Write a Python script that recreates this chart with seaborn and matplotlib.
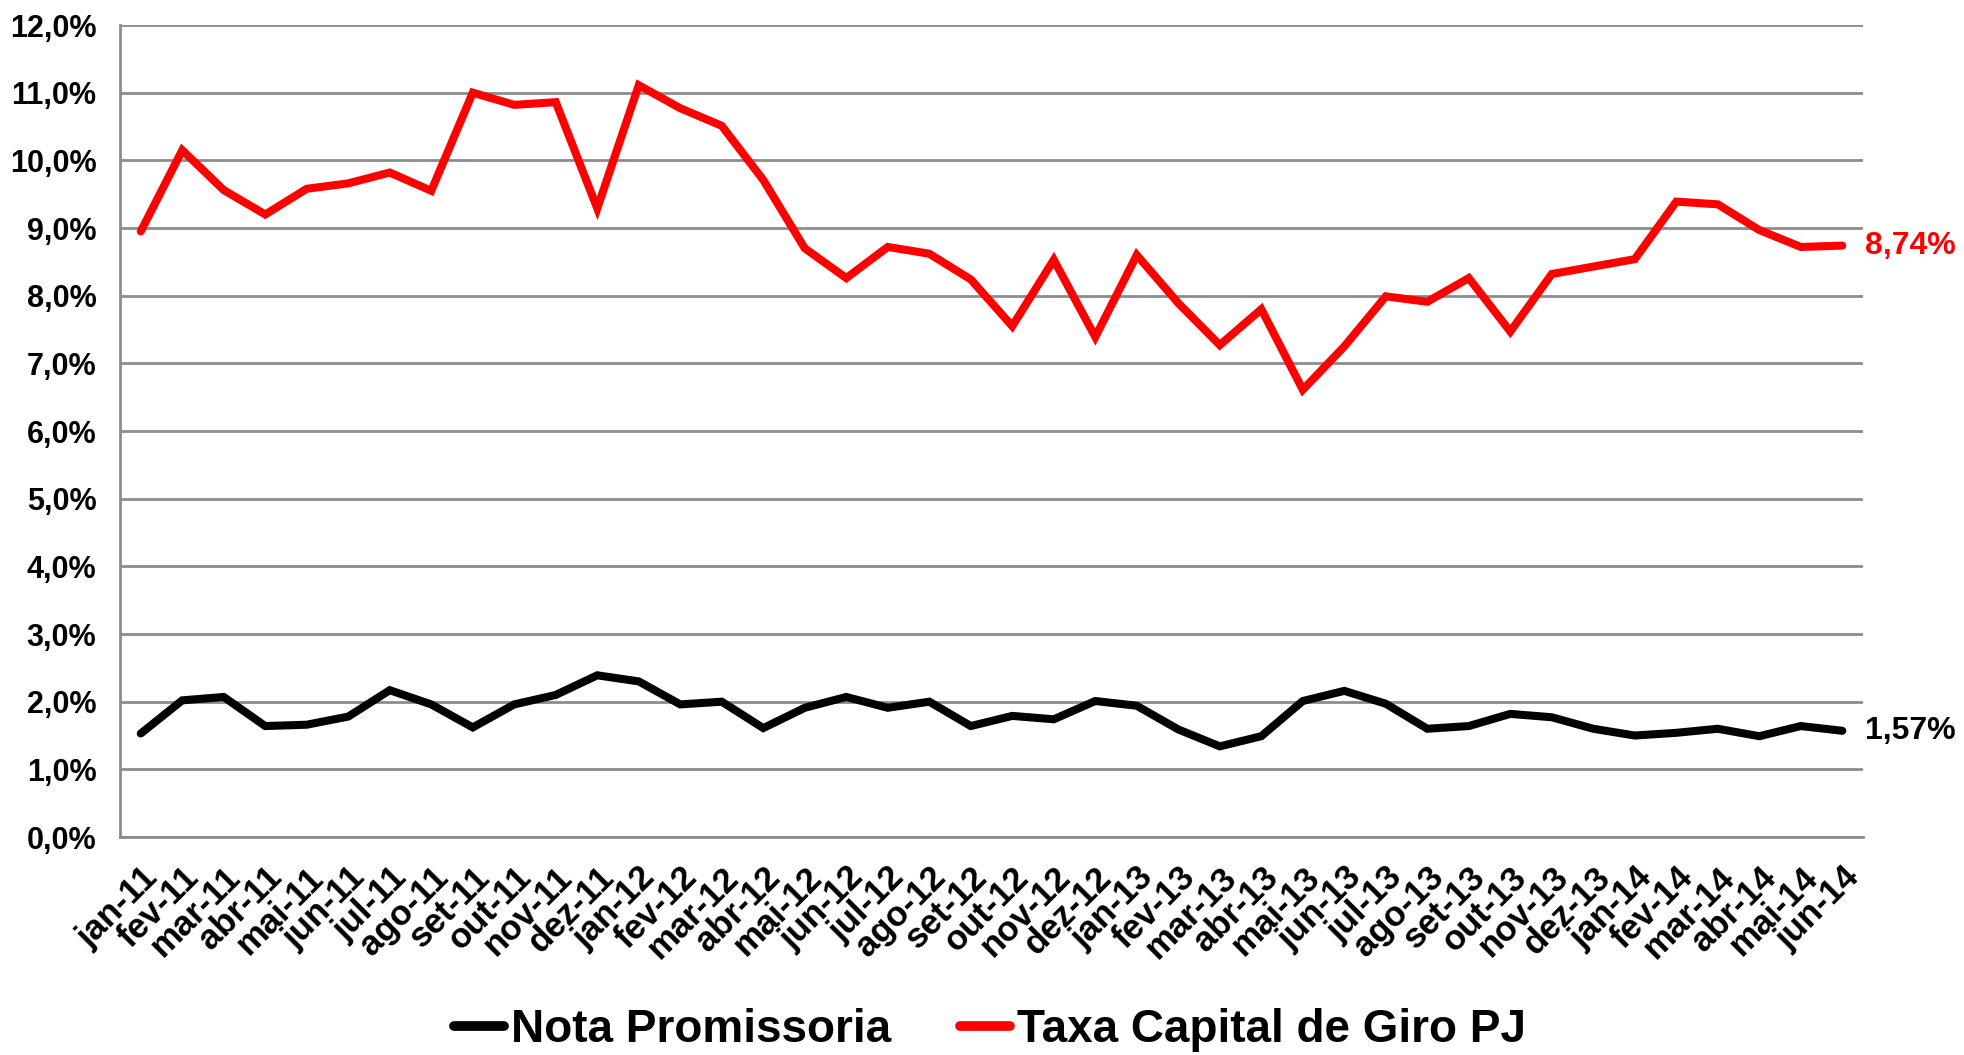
import numpy as np
import pandas as pd
import seaborn as sns
import matplotlib.pyplot as plt
import matplotlib.transforms as mtransforms
from matplotlib.ticker import FuncFormatter, FixedLocator

# ===============================
# DATA
# ===============================
months = ["jan-11", "fev-11", "mar-11", "abr-11", "mai-11", "jun-11", "jul-11", "ago-11",
          "set-11", "out-11", "nov-11", "dez-11", "jan-12", "fev-12", "mar-12", "abr-12",
          "mai-12", "jun-12", "jul-12", "ago-12", "set-12", "out-12", "nov-12", "dez-12",
          "jan-13", "fev-13", "mar-13", "abr-13", "mai-13", "jun-13", "jul-13", "ago-13",
          "set-13", "out-13", "nov-13", "dez-13", "jan-14", "fev-14", "mar-14", "abr-14",
          "mai-14", "jun-14"]

nota_promissoria = [1.53, 2.02, 2.07, 1.64, 1.66, 1.78, 2.17, 1.96, 1.62, 1.96, 2.10, 2.39,
                    2.30, 1.96, 2.00, 1.61, 1.91, 2.07, 1.91, 2.00, 1.64, 1.79, 1.74, 2.01,
                    1.94, 1.59, 1.34, 1.49, 2.01, 2.16, 1.97, 1.60, 1.64, 1.82, 1.77, 1.60,
                    1.50, 1.54, 1.60, 1.49, 1.64, 1.57]

capital_giro = [8.95, 10.15, 9.56, 9.20, 9.58, 9.66, 9.82, 9.55, 11.00, 10.82, 10.86, 9.29,
                11.11, 10.77, 10.51, 9.71, 8.70, 8.26, 8.72, 8.62, 8.24, 7.55, 8.53, 7.39,
                8.60, 7.89, 7.27, 7.80, 6.61, 7.25, 7.99, 7.91, 8.26, 7.47, 8.32, 8.43,
                8.54, 9.39, 9.35, 8.97, 8.72, 8.74]

series_names = ["Nota Promissoria", "Taxa Capital de Giro PJ"]
series_colors = ["black", "#ff0000"]
y_ticks = np.arange(0, 13, 1)

# ===============================
# STYLE
# ===============================
sns.set_style("white")
plt.rcParams['font.family'] = ['Liberation Sans', 'DejaVu Sans']
plt.rcParams['font.weight'] = 'bold'
plt.rcParams['text.color'] = 'black'
plt.rcParams['xtick.labelcolor'] = 'black'
plt.rcParams['ytick.labelcolor'] = 'black'

df = pd.DataFrame({
    "pos": np.tile(np.arange(len(months)), 2),
    "valor": nota_promissoria + capital_giro,
    "serie": np.repeat(series_names, len(months)),
})

fig = plt.figure(figsize=(19.64, 10.55), dpi=100)
ax = fig.add_axes([0.0611, 0.2066, 0.8875, 0.7697])

sns.lineplot(data=df, x="pos", y="valor", hue="serie", hue_order=series_names,
             palette=series_colors, linewidth=5.8, ax=ax, legend=False,
             solid_joinstyle='miter', solid_capstyle='round')

# ===============================
# AXES
# ===============================
ax.set_xlim(-0.5, len(months) - 0.5)
ax.set_ylim(0, 12)
ax.set_yticks(y_ticks)
ax.yaxis.set_major_formatter(FuncFormatter(lambda v, p: f"{v:.1f}%".replace(".", ",")))
ax.grid(axis='y', color='#8c8c8c', linewidth=2)
ax.set_axisbelow(True)

ax.set_xticks(np.arange(len(months)))
ax.set_xticklabels(months, rotation=45, ha='right', va='top', rotation_mode='anchor',
                   fontsize=25, fontweight='bold')
shift = mtransforms.ScaledTranslation(7 / 72, 0, fig.dpi_scale_trans)
for lab in ax.get_xticklabels():
    lab.set_transform(lab.get_transform() + shift)
ax.xaxis.set_minor_locator(FixedLocator(np.arange(-0.5, len(months), 1)))
ax.tick_params(axis='x', which='major', length=0, pad=17)
ax.tick_params(axis='x', which='minor', length=11, width=1.5, color='#8c8c8c', direction='out')
ax.tick_params(axis='y', length=9, width=1.5, color='#8c8c8c', labelsize=22, pad=8)
for lab in ax.get_yticklabels():
    lab.set_fontweight('bold')

ax.set_xlabel("")
ax.set_ylabel("")
for side in ["top", "right"]:
    ax.spines[side].set_visible(False)
for side in ["left", "bottom"]:
    ax.spines[side].set_color('#8c8c8c')
    ax.spines[side].set_linewidth(2)

# end labels
last = len(months) - 1
ax.annotate(f"{capital_giro[-1]:.2f}%".replace(".", ","), (last, capital_giro[-1]),
            xytext=(16, 0), textcoords='offset points', va='center', ha='left',
            color='#ff0000', fontsize=23, fontweight='bold', annotation_clip=False)
ax.annotate(f"{nota_promissoria[-1]:.2f}%".replace(".", ","), (last, nota_promissoria[-1]),
            xytext=(16, 0), textcoords='offset points', va='center', ha='left',
            color='black', fontsize=23, fontweight='bold', annotation_clip=False)

# legend
handles = [plt.Line2D([], [], color=c, linewidth=7, solid_capstyle='round') for c in series_colors]
fig.legend(handles, series_names, loc='center', bbox_to_anchor=(0.504, 0.024), ncol=2,
           frameon=False, handlelength=1.1, handletextpad=0.15,
           columnspacing=1.5, prop={'weight': 'bold', 'size': 33})

plt.savefig("out.png", dpi=100)
